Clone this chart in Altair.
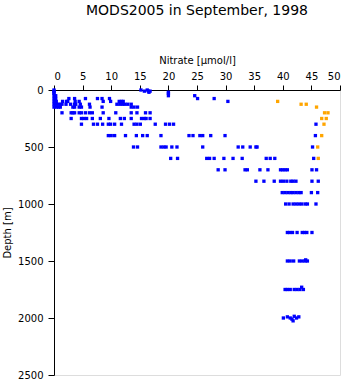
import altair as alt
import pandas as pd

# Blue profiles: nitrate (µmol/l) and depth (m)
blue_depth = (
    [0]*3 + [10]*4 + [20]*3 + [30]*2 + [50]*4 + [75]*10 + [100]*13 + [125]*17 + [150]*13
    + [200]*15 + [250]*14 + [300]*16 + [400]*15 + [500]*14 + [600]*12 + [700]*12
    + [800]*11 + [900]*10 + [1000]*9 + [1250]*8 + [1500]*7 + [1490] + [1750]*7 + [1730]
    + [2000, 1990, 2000, 2010, 1985, 2000, 1990, 2025]
)
blue_nitrate = (
    [0, 15.2, 16.3]
    + [0, 15.8, 16.5, 16.8]
    + [0, 16.6, 20.0]
    + [0, 20.0]
    + [0, 0.3, 20.0, 24.6]
    + [0, 0.3, 2.6, 3.6, 5.5, 7.6, 8.4, 9.7, 25.1, 28.0]
    + [0, 0.4, 1.5, 2.2, 2.4, 3.7, 4.4, 8.6, 9.9, 11.4, 11.8, 12.1, 30.4]
    + [0, 0.3, 0.7, 1.1, 1.4, 2.1, 2.9, 3.6, 3.8, 4.6, 6.2, 11.0, 11.5, 12.0, 12.4, 12.9, 13.5]
    + [0, 0.4, 0.8, 1.1, 3.3, 3.6, 4.4, 4.8, 6.3, 8.4, 13.5, 14.0, 14.6]
    + [1.4, 3.0, 3.3, 3.6, 4.4, 4.8, 5.5, 6.2, 6.7, 8.6, 10.8, 13.5, 14.5, 16.0, 16.8]
    + [3.0, 4.8, 5.2, 5.7, 6.7, 8.1, 9.6, 11.6, 12.3, 13.5, 15.3, 15.8, 16.1, 16.8]
    + [4.8, 6.9, 7.6, 8.5, 9.5, 9.9, 10.6, 11.8, 14.0, 14.5, 15.1, 17.7, 19.5, 20.2, 20.9, 45.8]
    + [9.5, 10.0, 10.6, 12.5, 14.4, 15.5, 16.3, 18.7, 23.6, 24.3, 25.5, 26.0, 27.4, 29.9, 45.7]
    + [13.9, 14.6, 18.7, 19.2, 19.6, 20.6, 21.5, 26.0, 32.2, 33.0, 34.3, 35.3, 35.5, 45.2]
    + [20.4, 21.6, 26.7, 27.2, 28.0, 29.7, 31.3, 32.9, 37.1, 37.8, 38.6, 45.4]
    + [28.7, 29.9, 33.4, 33.8, 36.0, 37.4, 39.6, 40.0, 40.4, 40.8, 45.1, 45.9]
    + [35.3, 36.7, 38.5, 39.6, 40.1, 40.7, 41.4, 41.8, 42.3, 45.1, 46.2]
    + [39.9, 40.4, 40.9, 41.4, 41.8, 42.3, 42.8, 43.2, 45.0, 46.1]
    + [40.5, 41.1, 41.8, 42.3, 42.8, 43.3, 43.9, 44.3, 45.8]
    + [40.8, 41.2, 41.7, 42.5, 43.4, 43.8, 44.2, 45.1]
    + [40.8, 41.3, 41.9, 42.9, 43.4, 43.9, 44.3] + [44.0]
    + [40.4, 40.8, 41.3, 42.0, 42.5, 43.0, 43.6] + [43.3]
    + [40.1, 40.8, 41.3, 41.6, 42.0, 42.4, 42.8, 41.8]
)

# Orange profile
orange_nitrate = [39.1, 43.2, 44.1, 45.9, 47.3, 47.9, 46.8, 47.6, 47.2, 46.8, 46.1, 46.2]
orange_depth = [100, 125, 125, 150, 200, 200, 250, 250, 300, 400, 500, 600]

x_ticks = list(range(0, 51, 5))
y_ticks = [0, 500, 1000, 1500, 2000, 2500]

df = pd.concat([
    pd.DataFrame({"nitrate": blue_nitrate, "depth": blue_depth, "series": "blue"}),
    pd.DataFrame({"nitrate": orange_nitrate, "depth": orange_depth, "series": "orange"}),
])

FONT = "DejaVu Sans"

chart = alt.Chart(df).mark_square(size=11, opacity=1, filled=True).encode(
    x=alt.X("nitrate:Q",
            scale=alt.Scale(domain=[0, 50], nice=False, zero=False),
            axis=alt.Axis(orient="top", values=x_ticks, title="Nitrate [µmol/l]",
                          grid=False, tickSize=5, labelPadding=4, titlePadding=6,
                          labelFontSize=10, titleFontSize=10, titleFontWeight="normal",
                          labelFont=FONT, titleFont=FONT,
                          domainColor="black", tickColor="black",
                          labelColor="black", titleColor="black")),
    y=alt.Y("depth:Q",
            scale=alt.Scale(domain=[0, 2500], reverse=True, nice=False, zero=False),
            axis=alt.Axis(values=y_ticks, format="d", title="Depth [m]", grid=False,
                          tickSize=6, labelPadding=5, titlePadding=5,
                          labelFontSize=10, titleFontSize=10, titleFontWeight="normal",
                          labelFont=FONT, titleFont=FONT,
                          domainColor="black", tickColor="black",
                          labelColor="black", titleColor="black")),
    color=alt.Color("series:N",
                    scale=alt.Scale(domain=["blue", "orange"], range=["#0000ff", "#ffa500"]),
                    legend=None),
).properties(
    width=286,
    height=285,
    title=alt.TitleParams("MODS2005 in September, 1998", fontSize=14, fontWeight="normal",
                          font=FONT, color="black", anchor="middle", offset=37),
    autosize=alt.AutoSizeParams(type="none"),
    padding={"left": 54, "top": 90, "right": 8, "bottom": 9},
).configure_view(stroke=None).configure(background="white")

chart.save("out.html", embed_options={"renderer": "svg", "actions": False})
